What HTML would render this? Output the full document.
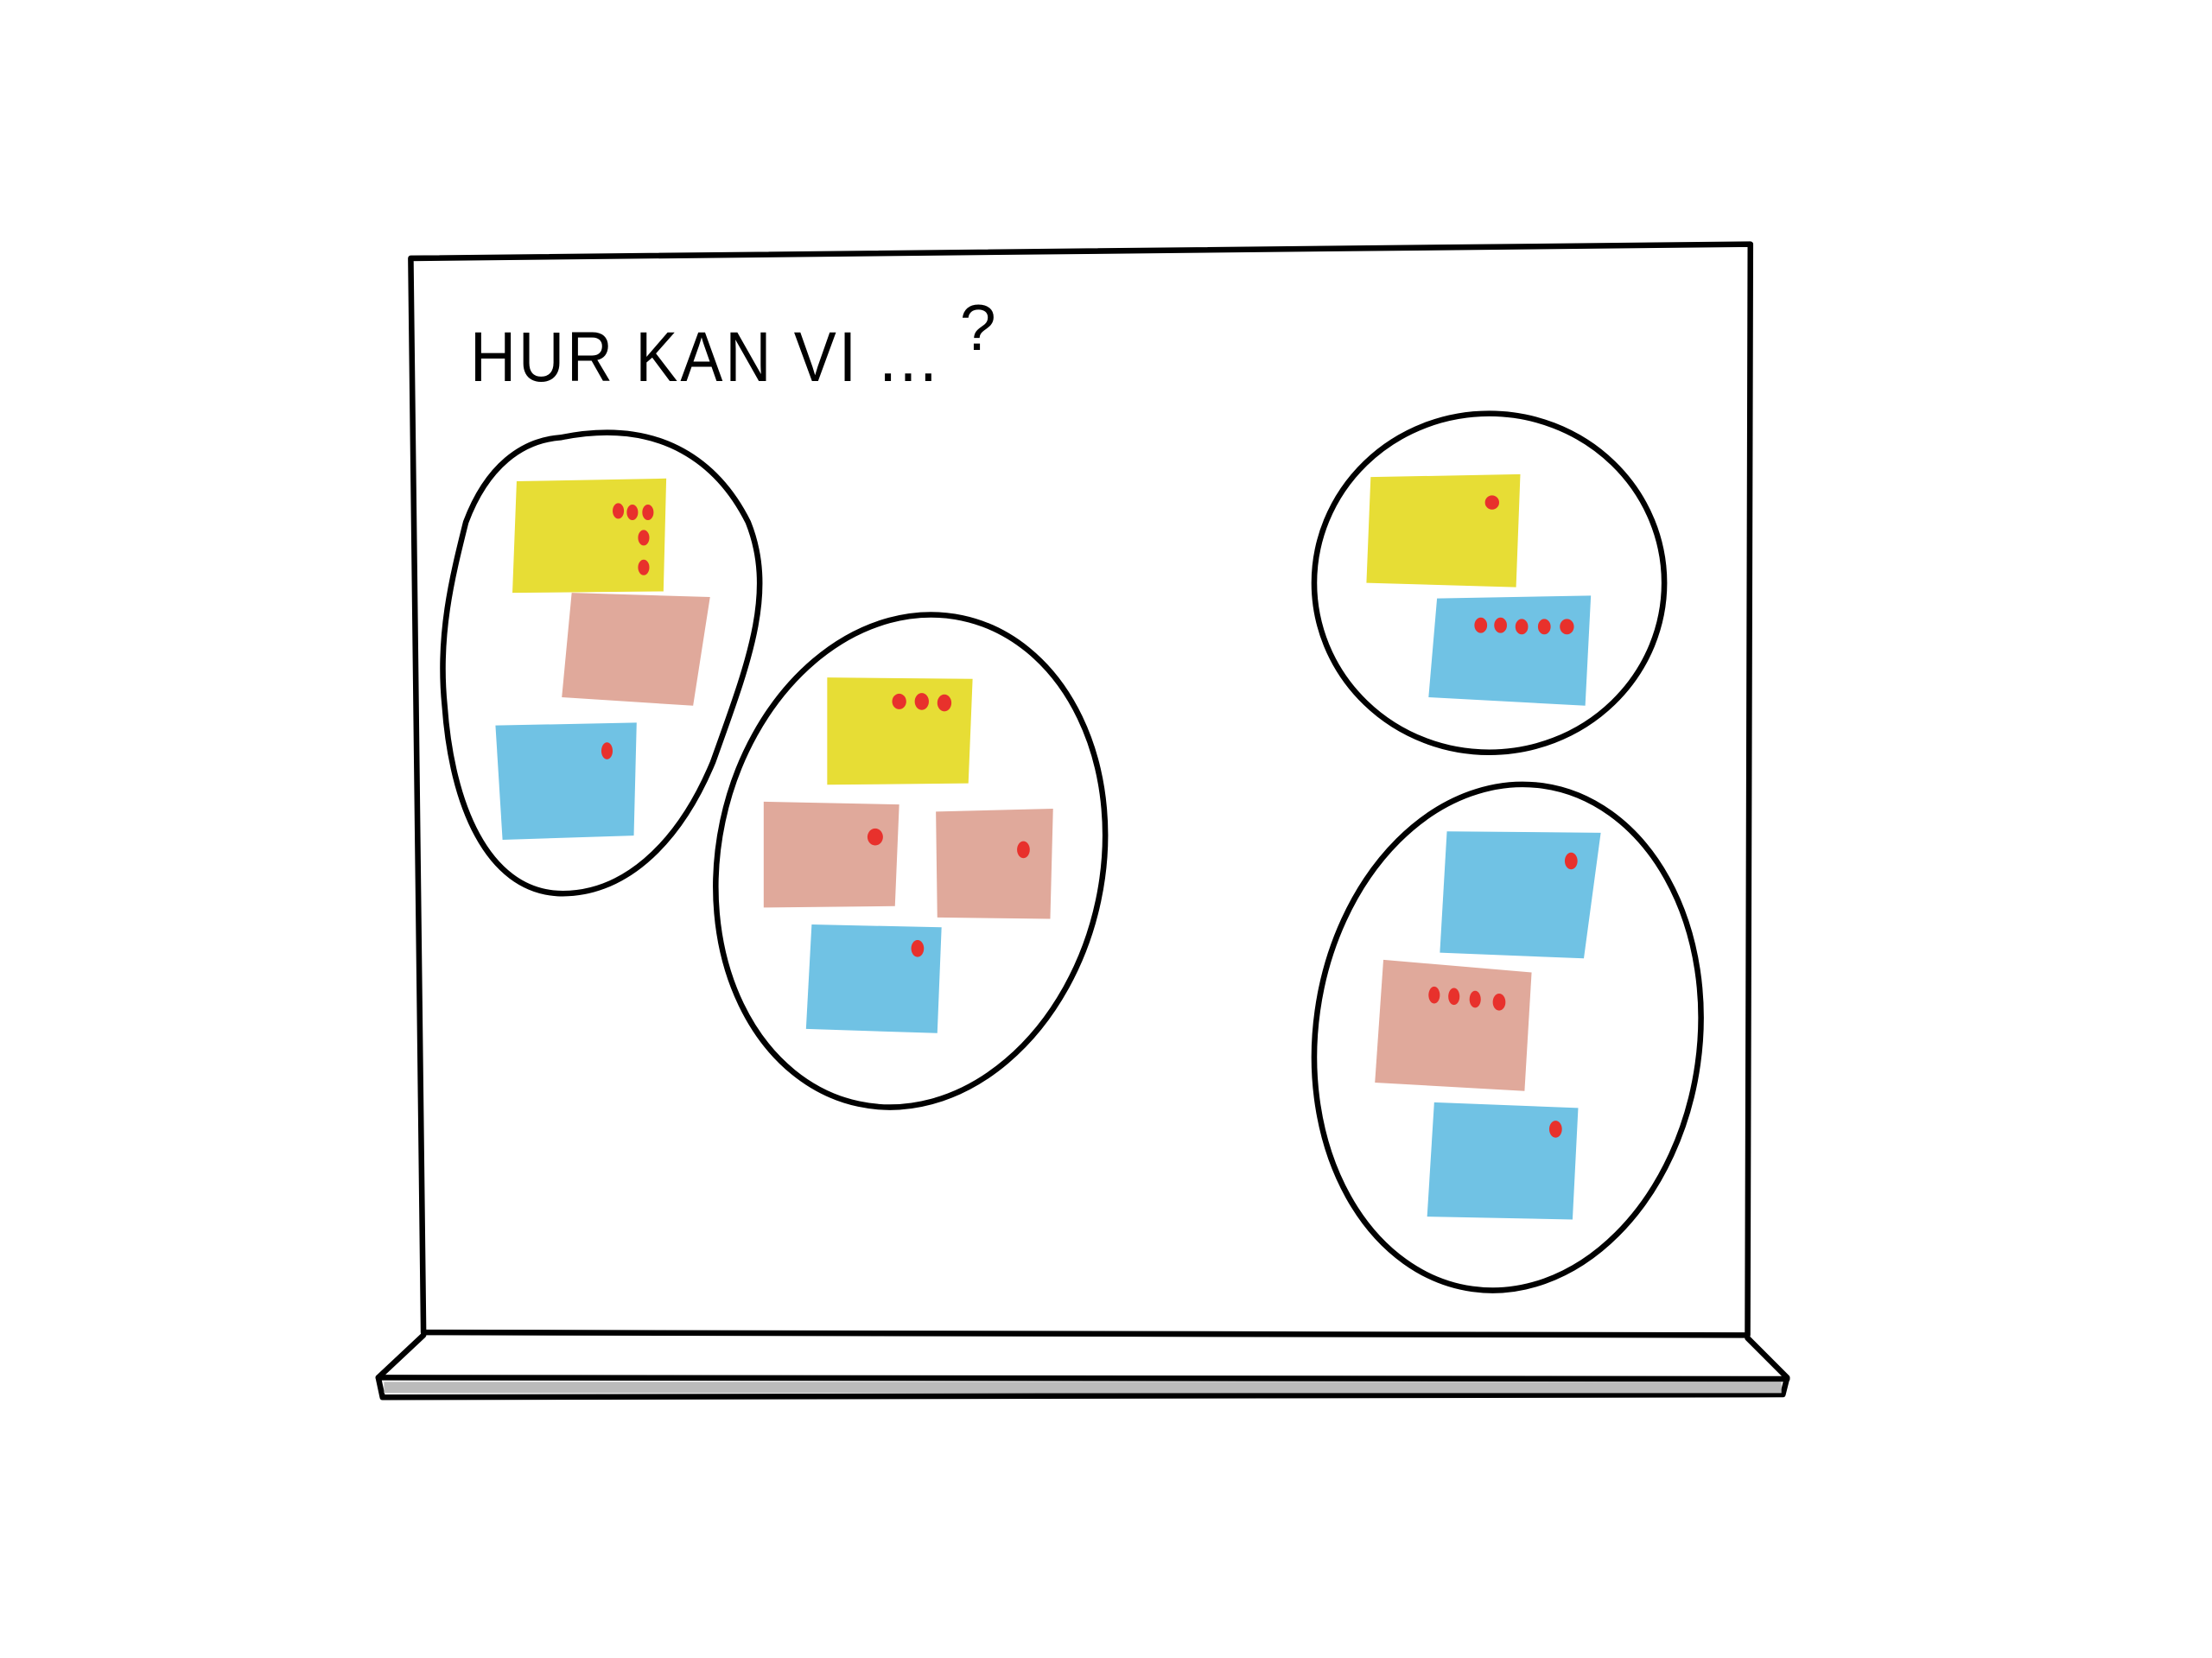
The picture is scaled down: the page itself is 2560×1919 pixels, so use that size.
<!DOCTYPE html>
<html><head><meta charset="utf-8"><style>
html,body{margin:0;padding:0;background:#fff;width:2560px;height:1919px;overflow:hidden}
svg{display:block}
</style></head><body>
<svg width="2560" height="1919" viewBox="0 0 1567 1174.7" preserveAspectRatio="none" xmlns="http://www.w3.org/2000/svg">
<rect width="1567" height="1175" fill="#fff"/>
<g fill="none" stroke="#000" stroke-width="4" stroke-linejoin="round" stroke-linecap="round">
<path d="M291,183 L1240,173 L1238,946 L300,944 Z"/>
<path d="M300,946 L268,976 L271,990 L1263,988 L1266,976 L1238,948"/>
<path d="M268,976 L1266,977"/>
</g>
<rect x="272" y="979" width="990" height="8" fill="#bbb"/>
<text x="333" y="270" font-family="Liberation Sans, sans-serif" font-size="50" fill="#000" letter-spacing="2" transform="scale(0.9,1) translate(37,0)">HUR KAN VI ...</text>
<text x="680" y="248" font-family="Liberation Sans, sans-serif" font-size="46" fill="#000">?</text>

<g fill="none" stroke="#000" stroke-width="4">
<path d="M397,310 C470,295 510,330 530,370 C550,420 530,470 505,540 C480,600 440,635 395,633 C345,630 320,570 315,500 C310,450 320,410 330,370 C345,330 370,312 397,310 Z"/>
<ellipse cx="645" cy="610" rx="136" ry="176" transform="rotate(12 645 610)"/>
<ellipse cx="1055" cy="413" rx="124" ry="120"/>
<ellipse cx="1068" cy="735" rx="136" ry="180" transform="rotate(8 1068 735)"/>
</g>

<g>
<polygon points="366,341 472,339 470,419 363,420" fill="#e7dd35"/>
<polygon points="405,420 503,423 491,500 398,494" fill="#e0a99b"/>
<polygon points="351,514 451,512 449,592 356,595" fill="#70c2e4"/>

<polygon points="586,480 689,481 686,555 586,556" fill="#e7dd35"/>
<polygon points="541,568 637,570 634,642 541,643" fill="#e0a99b"/>
<polygon points="663,575 746,573 744,651 664,650" fill="#e0a99b"/>
<polygon points="575,655 667,657 664,732 571,729" fill="#70c2e4"/>

<polygon points="971,338 1077,336 1074,416 968,413" fill="#e7dd35"/>
<polygon points="1018,424 1127,422 1123,500 1012,494" fill="#70c2e4"/>

<polygon points="1025,589 1134,590 1122,679 1020,675" fill="#70c2e4"/>
<polygon points="980,680 1085,689 1080,773 974,767" fill="#e0a99b"/>
<polygon points="1016,781 1118,785 1114,864 1011,862" fill="#70c2e4"/>
</g>

<g fill="#e8312c">
<ellipse cx="438" cy="362" rx="4" ry="5.5"/><ellipse cx="448" cy="363" rx="4" ry="5.5"/><ellipse cx="459" cy="363" rx="4" ry="5.5"/>
<ellipse cx="456" cy="381" rx="4" ry="5.5"/><ellipse cx="456" cy="402" rx="4" ry="5.5"/>
<ellipse cx="430" cy="532" rx="4" ry="6"/>
<ellipse cx="637" cy="497" rx="5" ry="5.5"/><ellipse cx="653" cy="497" rx="5" ry="6"/><ellipse cx="669" cy="498" rx="5" ry="6"/>
<ellipse cx="620" cy="593" rx="5.5" ry="6"/>
<ellipse cx="725" cy="602" rx="4.5" ry="6"/>
<ellipse cx="650" cy="672" rx="4.5" ry="6"/>
<ellipse cx="1057" cy="356" rx="5" ry="5"/>
<ellipse cx="1049" cy="443" rx="4.5" ry="5.5"/><ellipse cx="1063" cy="443" rx="4.5" ry="5.5"/><ellipse cx="1078" cy="444" rx="4.5" ry="5.5"/><ellipse cx="1094" cy="444" rx="4.5" ry="5.5"/><ellipse cx="1110" cy="444" rx="5" ry="5.5"/>
<ellipse cx="1113" cy="610" rx="4.5" ry="6"/>
<ellipse cx="1016" cy="705" rx="4" ry="6"/><ellipse cx="1030" cy="706" rx="4" ry="6"/><ellipse cx="1045" cy="708" rx="4" ry="6"/><ellipse cx="1062" cy="710" rx="4.5" ry="6"/>
<ellipse cx="1102" cy="800" rx="4.5" ry="6"/>
</g>
</svg>
</body></html>
